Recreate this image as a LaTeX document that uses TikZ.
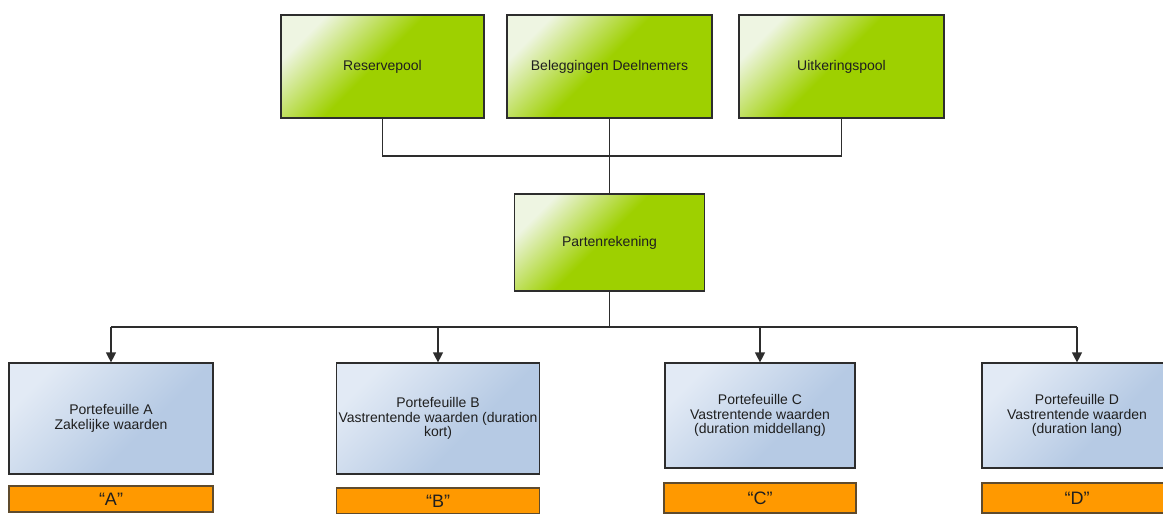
\documentclass[tikz,border=0pt]{standalone}
\usepackage{fontspec}
\setmainfont{Liberation Sans}
\usetikzlibrary{arrows.meta}
\definecolor{gdark}{RGB}{158,208,0}
\definecolor{glight}{RGB}{238,245,226}
\definecolor{bdark}{RGB}{182,202,228}
\definecolor{blight}{RGB}{226,234,245}
\definecolor{orangef}{RGB}{255,153,0}
\definecolor{orangeb}{RGB}{95,75,45}
\definecolor{linec}{RGB}{45,45,45}
\pgfdeclareverticalshading{gsh}{100bp}{color(0bp)=(gdark); color(25bp)=(gdark); color(52bp)=(gdark); color(75bp)=(glight); color(100bp)=(glight)}
\pgfdeclareverticalshading{bsh}{100bp}{color(0bp)=(bdark); color(25bp)=(bdark); color(40bp)=(bdark); color(75bp)=(blight); color(100bp)=(blight)}
\tikzset{
  box/.style={draw=linec, line width=1.2pt, rectangle, align=center, inner sep=0.5pt,
    font=\fontsize{14}{14.8}\selectfont, text=black!88},
  gbox/.style={box, shading=gsh, shading angle=45},
  bbox/.style={box, shading=bsh, shading angle=45},
  obox/.style={draw=orangeb, line width=1.2pt, fill=orangef, rectangle, inner sep=0pt,
    font=\fontsize{18}{18}\selectfont, text=black!88},
  conn/.style={draw=linec, line width=1.2pt},
  arr/.style={conn, -{Triangle[width=10pt,length=10pt]}}
}
\begin{document}
\begin{tikzpicture}[x=1pt,y=-1pt]
\useasboundingbox (0,0) rectangle (1163,514);
\clip (0,0) rectangle (1163,514);
% top row
\node[gbox, minimum width=203pt, minimum height=103pt] (r) at (382.5,66.5) {Reservepool};
\node[gbox, minimum width=205pt, minimum height=103pt] (b) at (609.5,66.5) {Beleggingen Deelnemers};
\node[gbox, minimum width=205pt, minimum height=103pt] (u) at (841.5,66.5) {Uitkeringspool};
% middle
\node[gbox, minimum width=190pt, minimum height=97pt] (p) at (609.5,242.5) {Partenrekening};
% bottom row
\node[bbox, minimum width=204pt, minimum height=111pt] (a) at (111,418.5) {Portefeuille A\\Zakelijke waarden};
\node[bbox, minimum width=203pt, minimum height=111pt] (bb) at (438,418.5) {Portefeuille B\\Vastrentende waarden (duration\\kort)};
\node[bbox, minimum width=190pt, minimum height=105pt] (c) at (760,415.5) {Portefeuille C\\Vastrentende waarden\\(duration middellang)};
\node[bbox, minimum width=190pt, minimum height=105pt] (d) at (1077,415.5) {Portefeuille D\\Vastrentende waarden\\(duration lang)};
% orange labels
\node[obox, minimum width=204pt, minimum height=26pt] (oa) at (111,499) {``A''};
\node[obox, minimum width=203pt, minimum height=26pt] (ob) at (438,501) {``B''};
\node[obox, minimum width=192pt, minimum height=30pt] (oc) at (760,498) {``C''};
\node[obox, minimum width=190pt, minimum height=30pt] (od) at (1077,498) {``D''};
% connectors top
\coordinate (j) at (609.5,156);
\draw[conn] (r.south) |- (j) -| (u.south);
\draw[conn] (b.south) -- (p.north);
% connectors bottom
\coordinate (k) at (609.5,327);
\coordinate (ka) at (a.north |- k);
\coordinate (kb) at (bb.north |- k);
\coordinate (kc) at (c.north |- k);
\coordinate (kd) at (d.north |- k);
\draw[conn] (p.south) -- (k);
\draw[conn] (ka) -- (kd);
\draw[arr] (ka) -- (a.north);
\draw[arr] (kb) -- (bb.north);
\draw[arr] (kc) -- (c.north);
\draw[arr] (kd) -- (d.north);
\end{tikzpicture}
\end{document}
